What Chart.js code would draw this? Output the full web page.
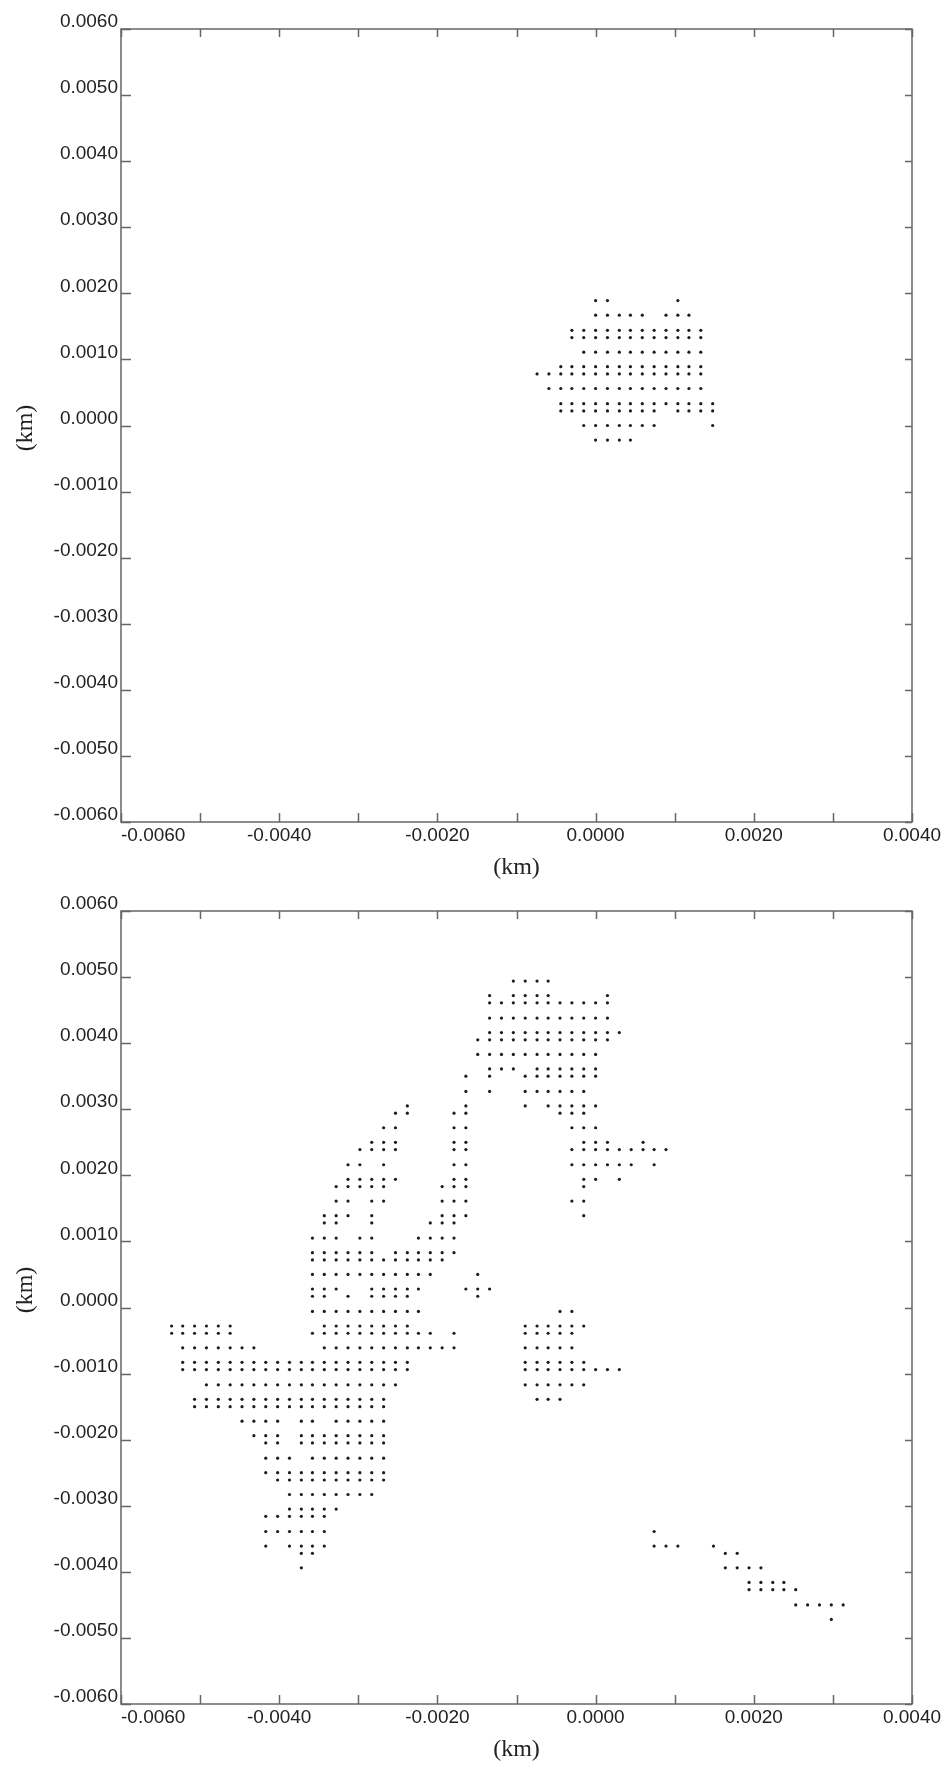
<!DOCTYPE html>
<html>
<head>
<meta charset="utf-8">
<script src="https://cdn.jsdelivr.net/npm/chart.js@4.4.0/dist/chart.umd.min.js"></script>
<style>
  html, body { margin: 0; padding: 0; background: #fff; }
  canvas { display: block; }
</style>
</head>
<body>
<canvas id="upper" width="948" height="883"></canvas>
<canvas id="lower" width="948" height="884"></canvas>
<script>
// axis ticks (km), same for both panels
const xTickValues = [-0.006, -0.005, -0.004, -0.003, -0.002, -0.001, 0, 0.001, 0.002, 0.003, 0.004];
const xTickLabels = ['-0.0060', '', '-0.0040', '', '-0.0020', '', '0.0000', '', '0.0020', '', '0.0040'];
const yTickValues = [0.006, 0.005, 0.004, 0.003, 0.002, 0.001, 0, -0.001, -0.002, -0.003, -0.004, -0.005, -0.006];
const yTickLabels = ['0.0060', '0.0050', '0.0040', '0.0030', '0.0020', '0.0010', '0.0000',
	'-0.0010', '-0.0020', '-0.0030', '-0.0040', '-0.0050', '-0.0060'];

// upper panel: one y per row, the x positions of the points on that row
const topRowY = [0.00189, 0.00167, 0.00144, 0.00133, 0.00111, 0.00089, 0.00078, 0.00056, 0.00033, 0.00022, 0.00000, -0.00022];
const topRowX = [
	[0, 0.00015, 0.00104],
	[0, 0.00015, 0.00030, 0.00044, 0.00059, 0.00089, 0.00104, 0.00118],
	[-0.00030, -0.00015, 0, 0.00015, 0.00030, 0.00044, 0.00059, 0.00074, 0.00089, 0.00104, 0.00118, 0.00133],
	[-0.00030, -0.00015, 0, 0.00015, 0.00030, 0.00044, 0.00059, 0.00074, 0.00089, 0.00104, 0.00118, 0.00133],
	[-0.00015, 0, 0.00015, 0.00030, 0.00044, 0.00059, 0.00074, 0.00089, 0.00104, 0.00118, 0.00133],
	[-0.00044, -0.00030, -0.00015, 0, 0.00015, 0.00030, 0.00044, 0.00059, 0.00074, 0.00089, 0.00104, 0.00118, 0.00133],
	[-0.00074, -0.00059, -0.00044, -0.00030, -0.00015, 0, 0.00015, 0.00030, 0.00044, 0.00059, 0.00074, 0.00089, 0.00104, 0.00118, 0.00133],
	[-0.00059, -0.00044, -0.00030, -0.00015, 0, 0.00015, 0.00030, 0.00044, 0.00059, 0.00074, 0.00089, 0.00104, 0.00118, 0.00133],
	[-0.00044, -0.00030, -0.00015, 0, 0.00015, 0.00030, 0.00044, 0.00059, 0.00074, 0.00089, 0.00104, 0.00118, 0.00133, 0.00148],
	[-0.00044, -0.00030, -0.00015, 0, 0.00015, 0.00030, 0.00044, 0.00059, 0.00074, 0.00104, 0.00118, 0.00133, 0.00148],
	[-0.00015, 0, 0.00015, 0.00030, 0.00044, 0.00059, 0.00074, 0.00148],
	[0, 0.00015, 0.00030, 0.00044]
];

// lower panel
const bottomRowY = [
	0.00494, 0.00472, 0.00461, 0.00438, 0.00416, 0.00405, 0.00383, 0.00361, 0.00350, 0.00327,
	0.00305, 0.00294, 0.00272, 0.00250, 0.00239, 0.00216, 0.00194, 0.00183, 0.00161, 0.00139,
	0.00128, 0.00105, 0.00083, 0.00072, 0.00050, 0.00028, 0.00017, -0.00006, -0.00028, -0.00039,
	-0.00061, -0.00083, -0.00094, -0.00117, -0.00139, -0.00150, -0.00172, -0.00194, -0.00205, -0.00228,
	-0.00250, -0.00261, -0.00283, -0.00305, -0.00316, -0.00339, -0.00361, -0.00372, -0.00394, -0.00416,
	-0.00427, -0.00450, -0.00472
];
const bottomRowX = [
	[-0.00104, -0.00089, -0.00074, -0.00060],
	[-0.00134, -0.00104, -0.00089, -0.00074, -0.00060, 0.00015],
	[-0.00134, -0.00119, -0.00104, -0.00089, -0.00074, -0.00060, -0.00045, -0.00030, -0.00015, 0, 0.00015],
	[-0.00134, -0.00119, -0.00104, -0.00089, -0.00074, -0.00060, -0.00045, -0.00030, -0.00015, 0, 0.00015],
	[-0.00134, -0.00119, -0.00104, -0.00089, -0.00074, -0.00060, -0.00045, -0.00030, -0.00015, 0, 0.00015, 0.00030],
	[-0.00149, -0.00134, -0.00119, -0.00104, -0.00089, -0.00074, -0.00060, -0.00045, -0.00030, -0.00015, 0, 0.00015],
	[-0.00149, -0.00134, -0.00119, -0.00104, -0.00089, -0.00074, -0.00060, -0.00045, -0.00030, -0.00015, 0],
	[-0.00134, -0.00119, -0.00104, -0.00074, -0.00060, -0.00045, -0.00030, -0.00015, 0],
	[-0.00164, -0.00134, -0.00089, -0.00074, -0.00060, -0.00045, -0.00030, -0.00015, 0],
	[-0.00164, -0.00134, -0.00089, -0.00074, -0.00060, -0.00045, -0.00030, -0.00015],
	[-0.00238, -0.00164, -0.00089, -0.00060, -0.00045, -0.00030, -0.00015, 0],
	[-0.00253, -0.00238, -0.00179, -0.00164, -0.00045, -0.00030, -0.00015],
	[-0.00268, -0.00253, -0.00179, -0.00164, -0.00030, -0.00015, 0],
	[-0.00283, -0.00268, -0.00253, -0.00179, -0.00164, -0.00015, 0, 0.00015, 0.00060],
	[-0.00298, -0.00283, -0.00268, -0.00253, -0.00179, -0.00164, -0.00030, -0.00015, 0, 0.00015, 0.00030, 0.00045, 0.00060, 0.00074, 0.00089],
	[-0.00313, -0.00298, -0.00268, -0.00179, -0.00164, -0.00030, -0.00015, 0, 0.00015, 0.00030, 0.00045, 0.00074],
	[-0.00313, -0.00298, -0.00283, -0.00268, -0.00253, -0.00179, -0.00164, -0.00015, 0, 0.00030],
	[-0.00328, -0.00313, -0.00298, -0.00283, -0.00268, -0.00194, -0.00179, -0.00164, -0.00015],
	[-0.00328, -0.00313, -0.00283, -0.00268, -0.00194, -0.00179, -0.00164, -0.00030, -0.00015],
	[-0.00343, -0.00328, -0.00313, -0.00283, -0.00194, -0.00179, -0.00164, -0.00015],
	[-0.00343, -0.00328, -0.00283, -0.00209, -0.00194, -0.00179],
	[-0.00358, -0.00343, -0.00328, -0.00298, -0.00283, -0.00224, -0.00209, -0.00194, -0.00179],
	[-0.00358, -0.00343, -0.00328, -0.00313, -0.00298, -0.00283, -0.00253, -0.00238, -0.00224, -0.00209, -0.00194, -0.00179],
	[-0.00358, -0.00343, -0.00328, -0.00313, -0.00298, -0.00283, -0.00268, -0.00253, -0.00238, -0.00224, -0.00209, -0.00194],
	[-0.00358, -0.00343, -0.00328, -0.00313, -0.00298, -0.00283, -0.00268, -0.00253, -0.00238, -0.00224, -0.00209, -0.00149],
	[-0.00358, -0.00343, -0.00328, -0.00283, -0.00268, -0.00253, -0.00238, -0.00224, -0.00164, -0.00149, -0.00134],
	[-0.00358, -0.00343, -0.00313, -0.00283, -0.00268, -0.00253, -0.00238, -0.00149],
	[-0.00358, -0.00343, -0.00328, -0.00313, -0.00298, -0.00283, -0.00268, -0.00253, -0.00238, -0.00224, -0.00045, -0.00030],
	[-0.00536, -0.00522, -0.00507, -0.00492, -0.00477, -0.00462, -0.00343, -0.00328, -0.00313, -0.00298, -0.00283, -0.00268, -0.00253, -0.00238,
		-0.00089, -0.00074, -0.00060, -0.00045, -0.00030, -0.00015],
	[-0.00536, -0.00522, -0.00507, -0.00492, -0.00477, -0.00462, -0.00358, -0.00343, -0.00328, -0.00313, -0.00298, -0.00283, -0.00268, -0.00253,
		-0.00238, -0.00224, -0.00209, -0.00179, -0.00089, -0.00074, -0.00060, -0.00045, -0.00030],
	[-0.00522, -0.00507, -0.00492, -0.00477, -0.00462, -0.00447, -0.00432, -0.00343, -0.00328, -0.00313, -0.00298, -0.00283, -0.00268, -0.00253,
		-0.00238, -0.00224, -0.00209, -0.00194, -0.00179, -0.00089, -0.00074, -0.00060, -0.00045, -0.00030],
	[-0.00522, -0.00507, -0.00492, -0.00477, -0.00462, -0.00447, -0.00432, -0.00417, -0.00402, -0.00387, -0.00372, -0.00358, -0.00343, -0.00328,
		-0.00313, -0.00298, -0.00283, -0.00268, -0.00253, -0.00238, -0.00089, -0.00074, -0.00060, -0.00045, -0.00030, -0.00015],
	[-0.00522, -0.00507, -0.00492, -0.00477, -0.00462, -0.00447, -0.00432, -0.00417, -0.00402, -0.00387, -0.00372, -0.00358, -0.00343, -0.00328,
		-0.00313, -0.00298, -0.00283, -0.00268, -0.00253, -0.00238, -0.00089, -0.00074, -0.00060, -0.00045, -0.00030, -0.00015, 0, 0.00015, 0.00030],
	[-0.00492, -0.00477, -0.00462, -0.00447, -0.00432, -0.00417, -0.00402, -0.00387, -0.00372, -0.00358, -0.00343, -0.00328, -0.00313, -0.00298,
		-0.00283, -0.00268, -0.00253, -0.00089, -0.00074, -0.00060, -0.00045, -0.00030, -0.00015],
	[-0.00507, -0.00492, -0.00477, -0.00462, -0.00447, -0.00432, -0.00417, -0.00402, -0.00387, -0.00372, -0.00358, -0.00343, -0.00328, -0.00313,
		-0.00298, -0.00283, -0.00268, -0.00074, -0.00060, -0.00045],
	[-0.00507, -0.00492, -0.00477, -0.00462, -0.00447, -0.00432, -0.00417, -0.00402, -0.00387, -0.00372, -0.00358, -0.00343, -0.00328, -0.00313,
		-0.00298, -0.00283, -0.00268],
	[-0.00447, -0.00432, -0.00417, -0.00402, -0.00372, -0.00358, -0.00328, -0.00313, -0.00298, -0.00283, -0.00268],
	[-0.00432, -0.00417, -0.00402, -0.00372, -0.00358, -0.00343, -0.00328, -0.00313, -0.00298, -0.00283, -0.00268],
	[-0.00417, -0.00402, -0.00372, -0.00358, -0.00343, -0.00328, -0.00313, -0.00298, -0.00283, -0.00268],
	[-0.00417, -0.00402, -0.00387, -0.00358, -0.00343, -0.00328, -0.00313, -0.00298, -0.00283, -0.00268],
	[-0.00417, -0.00402, -0.00387, -0.00372, -0.00358, -0.00343, -0.00328, -0.00313, -0.00298, -0.00283, -0.00268],
	[-0.00402, -0.00387, -0.00372, -0.00358, -0.00343, -0.00328, -0.00313, -0.00298, -0.00283, -0.00268],
	[-0.00387, -0.00372, -0.00358, -0.00343, -0.00328, -0.00313, -0.00298, -0.00283],
	[-0.00387, -0.00372, -0.00358, -0.00343, -0.00328],
	[-0.00417, -0.00402, -0.00387, -0.00372, -0.00358, -0.00343],
	[-0.00417, -0.00402, -0.00387, -0.00372, -0.00358, -0.00343, 0.00074],
	[-0.00417, -0.00387, -0.00372, -0.00358, -0.00343, 0.00074, 0.00089, 0.00104, 0.00149],
	[-0.00372, -0.00358, 0.00164, 0.00179],
	[-0.00372, 0.00164, 0.00179, 0.00194, 0.00209],
	[0.00194, 0.00209, 0.00224, 0.00238],
	[0.00194, 0.00209, 0.00224, 0.00238, 0.00253],
	[0.00253, 0.00268, 0.00283, 0.00298, 0.00313],
	[0.00298]
];

function toPoints(rowY, rowX) {
	const pts = [];
	rowY.forEach((y, i) => {
		rowX[i].forEach(x => pts.push({ x: x, y: y }));
	});
	return pts;
}

// box, inward ticks, tick labels and axis titles
const frame = {
	id: 'frame',
	afterDraw(chart, args, opts) {
		const { ctx, chartArea } = chart;
		const { left, right, top, bottom } = chartArea;
		const xs = chart.scales.x;
		const ys = chart.scales.y;
		ctx.save();
		ctx.strokeStyle = '#666';
		ctx.lineWidth = 1.5;
		ctx.strokeRect(left, top, right - left, bottom - top);

		ctx.beginPath();
		xTickValues.forEach(v => {
			const px = Math.round(xs.getPixelForValue(v)) + 0.5;
			ctx.moveTo(px, bottom);
			ctx.lineTo(px, bottom - 9);
			ctx.moveTo(px, top);
			ctx.lineTo(px, top + 8);
		});
		yTickValues.forEach(v => {
			const py = Math.round(ys.getPixelForValue(v)) + 0.5;
			ctx.moveTo(left, py);
			ctx.lineTo(left + 10, py);
			ctx.moveTo(right, py);
			ctx.lineTo(right - 7, py);
		});
		ctx.stroke();

		ctx.fillStyle = '#222';
		ctx.font = '19px "Liberation Sans", Arial, sans-serif';
		ctx.textBaseline = 'middle';
		ctx.textAlign = 'right';
		yTickValues.forEach((v, i) => {
			ctx.fillText(yTickLabels[i], left - 3, ys.getPixelForValue(v) - 7);
		});
		xTickValues.forEach((v, i) => {
			if (!xTickLabels[i]) return;
			const px = xs.getPixelForValue(v);
			// first label starts at the left edge instead of centring on it
			ctx.textAlign = i === 0 ? 'left' : 'center';
			ctx.fillText(xTickLabels[i], px, bottom + 14);
		});

		ctx.font = '24px "Liberation Serif", "DejaVu Serif", serif';
		ctx.textAlign = 'center';
		ctx.fillText('(km)', (left + right) / 2, opts.xTitleY);
		ctx.translate(26, opts.yTitleY);
		ctx.rotate(-Math.PI / 2);
		ctx.fillText('(km)', 0, 0);
		ctx.restore();
	}
};

function drawPanel(canvasElement, points, pad, titles) {
	return new Chart(canvasElement, {
		type: 'scatter',
		data: {
			datasets: [{
				data: points,
				pointRadius: 1.6,
				pointHoverRadius: 1.6,
				pointBorderWidth: 0,
				pointBackgroundColor: '#1c1c1c'
			}]
		},
		options: {
			responsive: false,
			animation: false,
			devicePixelRatio: 1,
			layout: { padding: pad },
			scales: {
				x: { type: 'linear', min: -0.006, max: 0.004, display: false },
				y: { type: 'linear', min: -0.006, max: 0.006, display: false }
			},
			plugins: {
				legend: { display: false },
				tooltip: { enabled: false },
				frame: titles
			}
		},
		plugins: [frame]
	});
}

drawPanel(document.getElementById('upper'), toPoints(topRowY, topRowX),
	{ left: 121, right: 36, top: 29, bottom: 61 }, { xTitleY: 868, yTitleY: 428 });
drawPanel(document.getElementById('lower'), toPoints(bottomRowY, bottomRowX),
	{ left: 121, right: 36, top: 28, bottom: 63 }, { xTitleY: 867, yTitleY: 407 });
</script>
</body>
</html>
